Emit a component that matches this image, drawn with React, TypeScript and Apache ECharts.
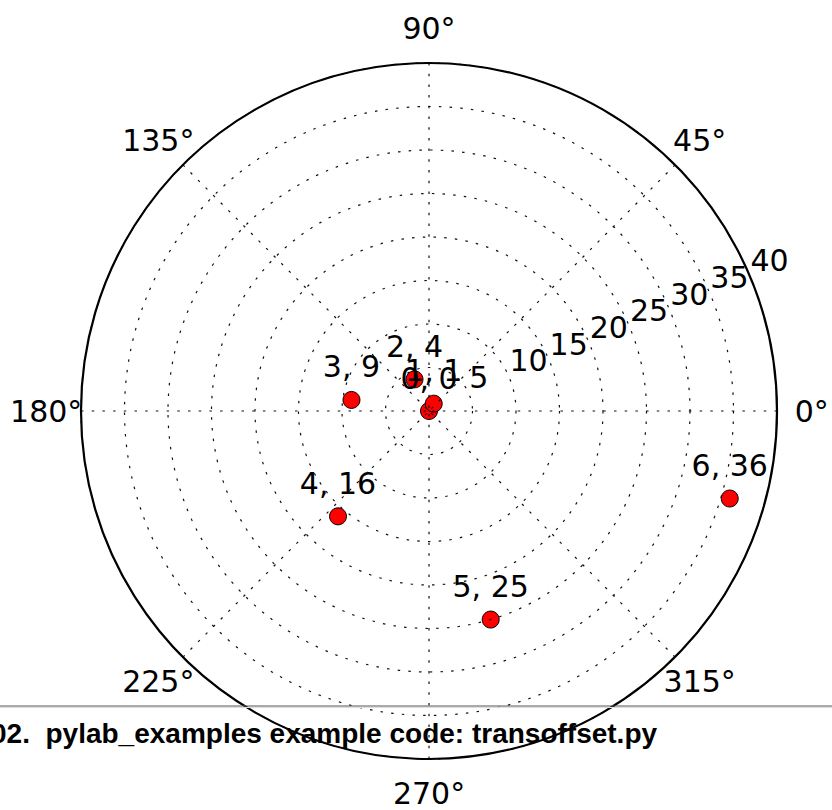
import React, { useEffect, useRef } from 'react';
import * as echarts from 'echarts';

// theta (radians) and radius of the plotted points
const xs = [0, 1, 2, 3, 4, 5, 6];
const ys = [0, 1, 4, 9, 16, 25, 36];
// tick labels
const thetaTicks = [0, 45, 90, 135, 180, 225, 270, 315];
const rTicks = [5, 10, 15, 20, 25, 30, 35, 40];
const rMax = 40;
const rLabelAngle = 22.5;
const caption = '02.  pylab_examples example code: transoffset.py';

const FONT = '"DejaVu Sans", sans-serif';

export default function App() {
  const ref = useRef<HTMLDivElement>(null);
  useEffect(() => {
    if (!ref.current) return;
    const chart = echarts.init(ref.current, undefined, { renderer: 'svg' });
    const gridStyle = { color: '#111', width: 1.2, type: [2.5, 8.2] as number[] };
    const tickLabel = {
      show: true,
      position: 'inside',
      color: '#000',
      opacity: 1,
      textBorderWidth: 0,
      fontSize: 30,
      fontFamily: FONT,
    };
    chart.setOption({
      animation: false,
      backgroundColor: '#fff',
      polar: { center: [429, 411], radius: 348 },
      angleAxis: {
        type: 'value',
        min: 0,
        max: 360,
        interval: 45,
        startAngle: 0,
        clockwise: false,
        z: 5,
        axisLine: { show: true, lineStyle: { color: '#000', width: 2.2 } },
        axisTick: { show: false },
        axisLabel: { show: false },
        splitLine: { show: true, lineStyle: gridStyle },
      },
      radiusAxis: {
        type: 'value',
        min: 0,
        max: rMax,
        interval: 5,
        z: 5,
        axisLine: { show: false },
        axisTick: { show: false },
        axisLabel: { show: false },
        splitLine: { show: true, lineStyle: gridStyle },
      },
      series: [
        {
          type: 'scatter',
          coordinateSystem: 'polar',
          clip: false,
          z: 2,
          symbol: 'circle',
          symbolSize: 17,
          data: xs.map((x, i) => [ys[i], (x * 180) / Math.PI]),
          itemStyle: { color: '#ff0000', borderColor: '#000', borderWidth: 1, opacity: 1 },
          label: {
            ...tickLabel,
            offset: [0, -33],
            formatter: (p: any) => `${xs[p.dataIndex]}, ${ys[p.dataIndex]}`,
          },
        },
        {
          type: 'scatter',
          coordinateSystem: 'polar',
          clip: false,
          silent: true,
          z: 6,
          symbolSize: 0.01,
          data: rTicks.map((r) => [r, rLabelAngle]),
          itemStyle: { color: '#000', opacity: 1 },
          label: {
            ...tickLabel,
            align: 'left',
            verticalAlign: 'middle',
            offset: [0, -17],
            formatter: (p: any) => `${rTicks[p.dataIndex]}`,
          },
        },
        {
          type: 'scatter',
          coordinateSystem: 'polar',
          clip: false,
          silent: true,
          z: 6,
          symbolSize: 0.01,
          data: thetaTicks.map((t) => [rMax * 1.1, t]),
          itemStyle: { color: '#000', opacity: 1 },
          label: {
            ...tickLabel,
            formatter: (p: any) => `${thetaTicks[p.dataIndex]}°`,
          },
        },
      ],
      graphic: [
        {
          type: 'line',
          z: 10,
          shape: { x1: 0, y1: 706, x2: 832, y2: 706 },
          style: { stroke: '#555', lineWidth: 1 },
        },
        {
          type: 'line',
          z: 10,
          shape: { x1: 0, y1: 707.5, x2: 832, y2: 707.5 },
          style: { stroke: '#ddd', lineWidth: 1 },
        },
        {
          type: 'text',
          z: 10,
          x: -9,
          y: 733,
          style: {
            text: caption,
            fill: '#000',
            font: 'bold 28px "Liberation Sans", Arial, Helvetica, sans-serif',
            align: 'left',
            verticalAlign: 'middle',
          },
        },
      ],
    });
    return () => chart.dispose();
  }, []);
  return (
    <div
      ref={ref}
      style={{ position: 'absolute', left: 0, top: 0, width: 832, height: 810 }}
    />
  );
}
